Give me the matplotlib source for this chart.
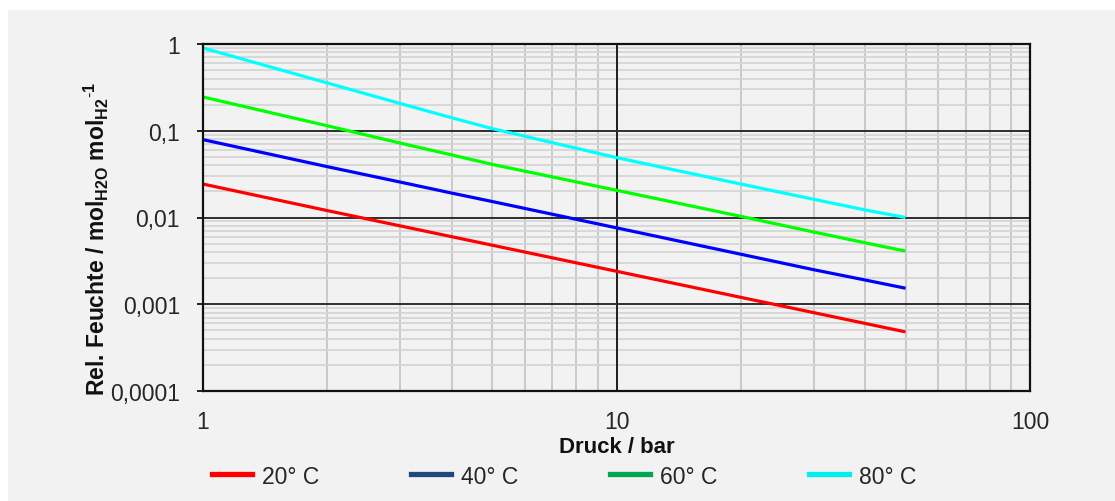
import matplotlib
matplotlib.use("Agg")
import matplotlib.pyplot as plt
from matplotlib.lines import Line2D
from matplotlib.patches import Rectangle
from matplotlib.ticker import FixedLocator, FixedFormatter, LogLocator, NullFormatter

plt.rcParams['font.family'] = ['Liberation Sans', 'DejaVu Sans']
plt.rcParams['mathtext.fontset'] = 'custom'
plt.rcParams['mathtext.rm'] = 'Liberation Sans'
plt.rcParams['mathtext.bf'] = 'Liberation Sans:bold'

# Data
pressure_bar = [1, 2, 3, 4, 5, 10, 20, 30, 40, 50]
humidity_20C = [0.0243, 0.0120, 0.0080, 0.0060, 0.0048, 0.0024, 0.00120, 0.00080, 0.00060, 0.00048]
humidity_40C = [0.079, 0.0385, 0.0256, 0.0191, 0.0153, 0.0076, 0.00377, 0.0025, 0.0019, 0.00153]
humidity_60C = [0.245, 0.114, 0.072, 0.0526, 0.041, 0.0206, 0.0103, 0.0068, 0.0051, 0.0041]
humidity_80C = [0.90, 0.355, 0.206, 0.141, 0.106, 0.049, 0.0243, 0.0162, 0.0122, 0.0100]

series_labels = ["20° C", "40° C", "60° C", "80° C"]
line_colors = ["#FF0000", "#0000FF", "#00FF00", "#00FFFF"]
legend_colors = ["#FF0000", "#1F497D", "#00A651", "#00F0F0"]

x_ticks = [1, 10, 100]
x_tick_labels = ["1", "10", "100"]
y_ticks = [0.0001, 0.001, 0.01, 0.1, 1]
y_tick_labels = ["0,0001", "0,001", "0,01", "0,1", "1"]

W, H = 1115, 502
fig = plt.figure(figsize=(W / 100, H / 100), dpi=100, facecolor="white")
fig.patches.append(Rectangle((8 / W, 0), 1 - 8 / W, 1 - 11 / H, transform=fig.transFigure,
                             facecolor="#F2F2F2", edgecolor="none", zorder=-10))

ax = fig.add_axes([203 / W, 1 - 392 / H, (1030 - 203) / W, (392 - 45) / H])
ax.set_facecolor("#F2F2F2")
ax.set_xscale("log")
ax.set_yscale("log")
ax.set_xlim(1, 100)
ax.set_ylim(0.0001, 1)

all_series = [humidity_20C, humidity_40C, humidity_60C, humidity_80C]
for vals, col in zip(all_series, line_colors):
    ax.plot(pressure_bar, vals, color=col, lw=2.3, zorder=5, solid_capstyle="butt")

ax.xaxis.set_major_locator(FixedLocator(x_ticks))
ax.xaxis.set_major_formatter(FixedFormatter(x_tick_labels))
ax.yaxis.set_major_locator(FixedLocator(y_ticks))
ax.yaxis.set_major_formatter(FixedFormatter(y_tick_labels))
ax.xaxis.set_minor_locator(LogLocator(base=10, subs=range(2, 10)))
ax.yaxis.set_minor_locator(LogLocator(base=10, subs=range(2, 10)))
ax.xaxis.set_minor_formatter(NullFormatter())
ax.yaxis.set_minor_formatter(NullFormatter())

# minor grid via axis grid, major grid on top of it
ax.set_axisbelow(True)
ax.grid(True, which="minor", axis="x", color="#C6C6C6", lw=1.3)
ax.grid(True, which="minor", axis="y", color="#D6D6D6", lw=1.3)
for xv in x_ticks:
    ax.axvline(xv, color="#1E1E1E", lw=1.4, zorder=3)
for yv in y_ticks:
    ax.axhline(yv, color="#2E2E2E", lw=1.4, zorder=3)

for s in ax.spines.values():
    s.set_color("#111111")
    s.set_linewidth(1.6)
    s.set_zorder(6)

ax.tick_params(axis="y", which="major", length=4.5, width=1.4, color="#222222",
               labelsize=16.5, labelcolor="#262626", pad=12, direction="out")
ax.tick_params(axis="x", which="major", length=0, labelsize=16.5, labelcolor="#262626", pad=14)
ax.tick_params(which="minor", length=0)

ax.set_xlabel("Druck / bar", fontsize=16, fontweight="bold", color="#111111", labelpad=2)
ax.set_ylabel(r"Rel. Feuchte / mol$_{\mathbf{H2O}}$ mol$_{\mathbf{H2}}$$^{\mathbf{\text{-}1}}$",
              fontsize=16.5, fontweight="bold", color="#111111")
ax.yaxis.set_label_coords(-0.111, 0.44)

handles = [Line2D([0], [0], color=c, lw=3.8) for c in legend_colors]
fig.legend(handles, series_labels, loc="center left", bbox_to_anchor=(212 / W, 1 - 477 / H),
           ncol=4, frameon=False, fontsize=16.5, handlelength=1.75, handletextpad=0.45,
           columnspacing=3.98, labelcolor="#262626", borderpad=0, borderaxespad=0)

fig.savefig("out.png", dpi=100, facecolor=fig.get_facecolor())
